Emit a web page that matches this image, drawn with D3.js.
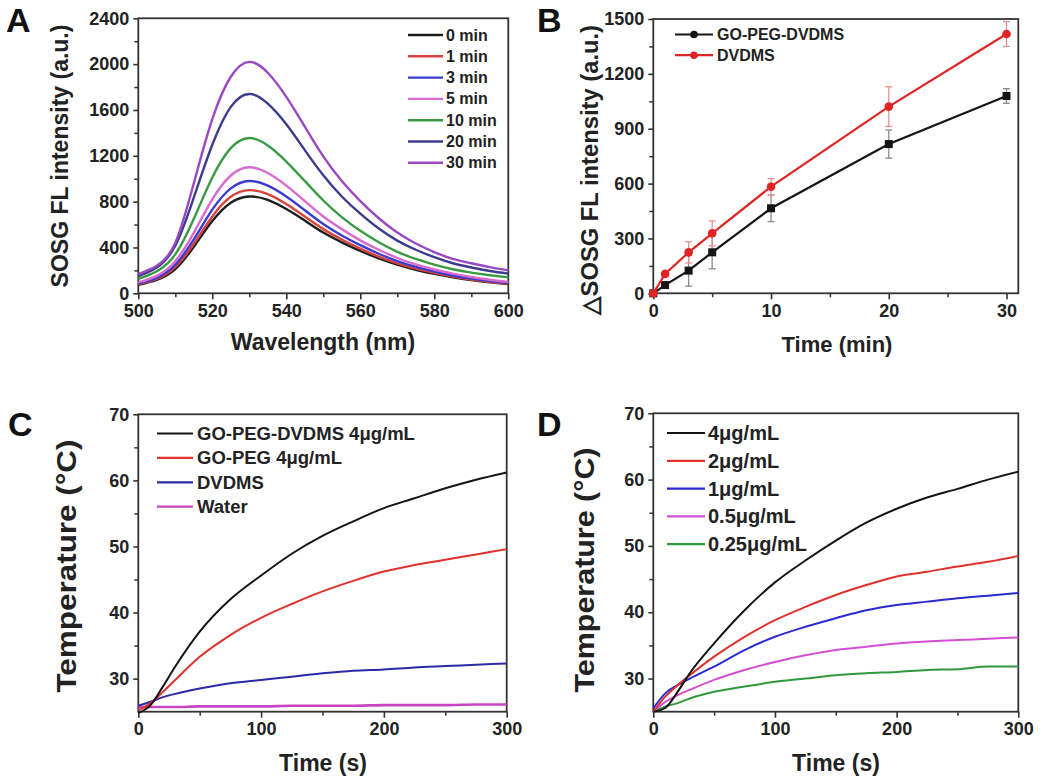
<!DOCTYPE html>
<html><head><meta charset="utf-8">
<script src="https://cdn.jsdelivr.net/npm/d3@7"></script>
<style>
html,body{margin:0;padding:0;background:#fff;}
svg{display:block;font-family:"Liberation Sans",Arial,sans-serif;font-weight:bold;}
svg text{font-weight:bold;}
</style></head>
<body><svg id="c" width="1050" height="782"></svg>
<script>
// ---------- Panel A data ----------
const wavelengths = [500,505,510,515,520,525,530,535,540,545,550,555,560,565,570,575,580,585,590,595,600];
const aLabels = ["0 min","1 min","3 min","5 min","10 min","20 min","30 min"];
const a0  = [75,118,212,406,630,790,845,815,735,635,530,445,370,305,250,205,170,140,115,95,80];
const a1  = [78,125,230,432,671,842,900,865,780,670,560,470,390,320,262,215,178,146,120,99,84];
const a3  = [85,135,250,470,730,916,980,940,845,725,605,505,420,345,280,230,190,155,128,106,92];
const a5  = [95,152,280,528,820,1028,1100,1050,940,805,670,560,462,380,308,252,208,172,142,118,100];
const a10 = [125,192,340,650,1010,1267,1355,1290,1150,980,810,665,545,445,362,300,250,210,180,158,140];
const a20 = [150,225,415,835,1296,1627,1740,1655,1475,1250,1030,845,695,565,460,380,315,262,225,195,172];
const a30 = [168,240,440,960,1520,1890,2020,1925,1715,1455,1195,980,805,655,530,435,360,300,262,228,200];
const aTicksY = [0,400,800,1200,1600,2000,2400];
const aTicksX = [500,520,540,560,580,600];

// ---------- Panel B data ----------
const bTime = [0,1,3,5,10,20,30];
const bLabels = ["GO-PEG-DVDMS","DVDMS"];
const bGoPeg = [0,45,124,224,465,816,1079];
const bGoPegErr = [0,15,85,90,73,77,40];
const bDvdms = [0,106,224,328,583,1021,1418];
const bDvdmsErr = [0,15,58,68,44,108,68];
const bTicksY = [0,300,600,900,1200,1500];
const bTicksX = [0,10,20,30];

// ---------- Panel C / D data ----------
const tTime = [0,10,20,30,50,75,100,125,150,175,200,225,250,275,300];
const cLabels = ["GO-PEG-DVDMS 4\u03bcg/mL","GO-PEG 4\u03bcg/mL","DVDMS","Water"];
const cGoPegDvdms = [24.8,26.0,28.8,31.8,37.1,42.0,45.6,48.9,51.6,53.8,55.8,57.3,58.8,60.1,61.2];
const cGoPeg      = [25.2,26.3,28.0,29.8,33.3,36.6,39.2,41.3,43.2,44.8,46.2,47.2,48.0,48.8,49.6];
const cDvdms      = [25.9,26.5,27.2,27.7,28.5,29.3,29.8,30.3,30.8,31.2,31.4,31.7,31.9,32.1,32.3];
const cWater      = [25.7,25.7,25.7,25.7,25.8,25.8,25.8,25.9,25.9,25.9,26.0,26.0,26.0,26.1,26.1];
const dLabels = ["4\u03bcg/mL","2\u03bcg/mL","1\u03bcg/mL","0.5\u03bcg/mL","0.25\u03bcg/mL"];
const d4   = [25.0,25.6,28.0,30.8,35.3,40.3,44.5,47.8,50.8,53.5,55.6,57.3,58.6,60.0,61.2];
const d2   = [25.0,27.3,29.0,30.5,33.3,36.3,38.8,40.8,42.6,44.1,45.4,46.1,46.9,47.6,48.5];
const d1   = [25.5,27.8,29.0,30.0,31.8,34.3,36.3,37.8,39.1,40.3,41.1,41.6,42.1,42.5,42.9];
const d05  = [25.0,26.5,27.5,28.3,29.8,31.3,32.5,33.5,34.3,34.8,35.3,35.6,35.8,36.0,36.2];
const d025 = [25.0,25.8,26.3,27.0,28.0,28.8,29.5,30.0,30.5,30.8,31.0,31.3,31.4,31.8,31.8];
const tTicksY = [30,40,50,60,70];
const tTicksX = [0,100,200,300];

const svg = d3.select("#c");
svg.append("rect").attr("width",1050).attr("height",782).attr("fill","#fff");
const AX = "#333";
const FONT = "'Liberation Sans',Arial,sans-serif";

function styleTicks(s){
  s.select(".domain").remove();
  s.selectAll("line").attr("stroke",AX).attr("stroke-width",1.6);
  s.selectAll("text").attr("font-size",18).style("font-weight","bold").attr("fill","#222")
   .style("font-family",FONT);
}
function panel(o){
  const x = d3.scaleLinear().domain(o.xd).range([o.x0,o.x1]);
  const y = d3.scaleLinear().domain(o.yd).range([o.y1,o.y0]);
  const g = svg.append("g");
  const fmt = d3.format("d");
  g.append("g").attr("transform",`translate(0,${o.y1})`)
    .call(d3.axisBottom(x).tickValues(o.xMinor).tickSize(4).tickFormat(""))
    .call(s=>{s.select(".domain").remove(); s.selectAll("line").attr("stroke",AX).attr("stroke-width",1.5);});
  g.append("g").attr("transform",`translate(${o.x0},0)`)
    .call(d3.axisLeft(y).tickValues(o.yMinor).tickSize(4).tickFormat(""))
    .call(s=>{s.select(".domain").remove(); s.selectAll("line").attr("stroke",AX).attr("stroke-width",1.5);});
  g.append("g").attr("transform",`translate(0,${o.y1})`)
    .call(d3.axisBottom(x).tickValues(o.xt).tickFormat(fmt).tickSize(6).tickSizeOuter(0).tickPadding(5))
    .call(styleTicks);
  g.append("g").attr("transform",`translate(${o.x0},0)`)
    .call(d3.axisLeft(y).tickValues(o.yt).tickFormat(fmt).tickSize(5).tickSizeOuter(0).tickPadding(4))
    .call(styleTicks);
  g.append("rect").attr("x",o.x0).attr("y",o.y0).attr("width",o.x1-o.x0).attr("height",o.y1-o.y0)
    .attr("fill","none").attr("stroke",AX).attr("stroke-width",1.8);
  return {x,y,g};
}

function ylabel(txt,x,y,size,len){
  const t = svg.append("text").attr("transform",`translate(${x},${y}) rotate(-90)`)
    .attr("text-anchor","middle").attr("font-size",size).attr("fill","#222").text(txt);
  if(len) t.attr("textLength",len).attr("lengthAdjust","spacingAndGlyphs");
}
function xlabel(txt,x,y,size,len){
  const t = svg.append("text").attr("x",x).attr("y",y).attr("text-anchor","middle")
    .attr("font-size",size).attr("fill","#222").text(txt);
  if(len) t.attr("textLength",len).attr("lengthAdjust","spacingAndGlyphs");
}
function letter(txt,x,y){
  svg.append("text").attr("x",x).attr("y",y).attr("font-size",34).attr("fill","#111").text(txt);
}

// ---------- Panel A ----------
{
  const p = panel({x0:138.3,x1:508.3,y0:18.3,y1:293.3,xd:[500,600],yd:[0,2400],
    xt:aTicksX,yt:aTicksY,xMinor:[510,530,550,570,590],yMinor:[200,600,1000,1400,1800,2200]});
  const series = [a0,a1,a3,a5,a10,a20,a30];
  const cols = ["#1e1e1e","#d8443c","#3b3bcf","#d86ad0","#3a9a44","#3c3c8c","#9b48c4"];
  const line = d3.line().x((d,i)=>p.x(wavelengths[i])).y(d=>p.y(d)).curve(d3.curveNatural);
  series.forEach((s,i)=>{
    svg.append("path").datum(s).attr("d",line).attr("fill","none").attr("stroke",cols[i]).attr("stroke-width",2.4);
  });
  aLabels.forEach((l,i)=>{
    const yy = 35 + i*21.3;
    svg.append("line").attr("x1",408).attr("x2",443).attr("y1",yy).attr("y2",yy).attr("stroke",cols[i]).attr("stroke-width",2.4);
    svg.append("text").attr("x",446).attr("y",yy+5.5).attr("font-size",16).attr("fill","#222").text(l);
  });
  ylabel("SOSG FL intensity (a.u.)",68,156,23);
  xlabel("Wavelength (nm)",323,350,23);
  letter("A",6,32);
}

// ---------- Panel B ----------
{
  const p = panel({x0:653.3,x1:1018.3,y0:19,y1:293.3,xd:[0,31],yd:[0,1500],
    xt:bTicksX,yt:bTicksY,xMinor:[5,15,25],yMinor:[150,450,750,1050,1350]});
  const sets = [
    {v:bGoPeg,e:bGoPegErr,c:"#151515",ec:"#8a8a8a",shape:"sq"},
    {v:bDvdms,e:bDvdmsErr,c:"#e02424",ec:"#eb9090",shape:"ci"}];
  sets.forEach(s=>{
    bTime.forEach((t,i)=>{
      if(!s.e[i]) return;
      const cx=p.x(t), yt=p.y(s.v[i]+s.e[i]), yb=p.y(s.v[i]-s.e[i]);
      svg.append("line").attr("x1",cx).attr("x2",cx).attr("y1",yt).attr("y2",yb).attr("stroke",s.ec).attr("stroke-width",1.3);
      [yt,yb].forEach(yy=>svg.append("line").attr("x1",cx-3.5).attr("x2",cx+3.5).attr("y1",yy).attr("y2",yy).attr("stroke",s.ec).attr("stroke-width",1.3));
    });
  });
  sets.forEach(s=>{
    const line = d3.line().x((d,i)=>p.x(bTime[i])).y(d=>p.y(d));
    svg.append("path").datum(s.v).attr("d",line).attr("fill","none").attr("stroke",s.c).attr("stroke-width",2.2);
    s.v.forEach((v,i)=>{
      if(s.shape==="sq") svg.append("rect").attr("x",p.x(bTime[i])-4).attr("y",p.y(v)-4).attr("width",8).attr("height",8).attr("fill",s.c);
      else svg.append("circle").attr("cx",p.x(bTime[i])).attr("cy",p.y(v)).attr("r",4.3).attr("fill",s.c);
    });
  });
  bLabels.forEach((l,i)=>{
    const yy = 34.5 + i*20.7;
    svg.append("line").attr("x1",675).attr("x2",713).attr("y1",yy).attr("y2",yy).attr("stroke",sets[i].c).attr("stroke-width",2.2);
    svg.append("circle").attr("cx",694).attr("cy",yy).attr("r",3.8).attr("fill",sets[i].c);
    svg.append("text").attr("x",717).attr("y",yy+5.5).attr("font-size",16).attr("fill","#222").text(l);
  });
  ylabel("\u25B3SOSG FL intensity (a.u.)",598,170,23,290);
  xlabel("Time (min)",837,352,22);
  letter("B",537,32);
}

// ---------- Panel C ----------
{
  const p = panel({x0:138.3,x1:506.7,y0:414.3,y1:711.7,xd:[0,300],yd:[25,70],
    xt:tTicksX,yt:tTicksY,xMinor:[50,150,250],yMinor:[35,45,55,65]});
  const series=[cGoPegDvdms,cGoPeg,cDvdms,cWater];
  const cols=["#141414","#e0312c","#2a2aa8","#c844c4"];
  const line = d3.line().x((d,i)=>p.x(tTime[i])).y(d=>p.y(d)).curve(d3.curveMonotoneX);
  [3,2,1,0].forEach(i=>{
    svg.append("path").datum(series[i]).attr("d",line).attr("fill","none").attr("stroke",cols[i]).attr("stroke-width",i===3?2.6:2);
  });
  cLabels.forEach((l,i)=>{
    const yy = 433.5 + i*24.4;
    svg.append("line").attr("x1",157).attr("x2",193).attr("y1",yy).attr("y2",yy).attr("stroke",cols[i]).attr("stroke-width",2.2);
    svg.append("text").attr("x",197).attr("y",yy+6.5).attr("font-size",18.5).attr("fill","#222").text(l);
  });
  ylabel("Temperature (\u00b0C)",76,566,28,253);
  xlabel("Time (s)",323,771,23);
  letter("C",8,436);
}

// ---------- Panel D ----------
{
  const p = panel({x0:653.3,x1:1018.3,y0:413.3,y1:711.7,xd:[0,300],yd:[25,70],
    xt:tTicksX,yt:tTicksY,xMinor:[50,150,250],yMinor:[35,45,55,65]});
  const series=[d4,d2,d1,d05,d025];
  const cols=["#141414","#e0312c","#2a2ad0","#d24ed2","#2e9a3c"];
  const line = d3.line().x((d,i)=>p.x(tTime[i])).y(d=>p.y(d)).curve(d3.curveMonotoneX);
  [4,3,2,1,0].forEach(i=>{
    svg.append("path").datum(series[i]).attr("d",line).attr("fill","none").attr("stroke",cols[i]).attr("stroke-width",2);
  });
  dLabels.forEach((l,i)=>{
    const yy = 433 + i*27.8;
    svg.append("line").attr("x1",667).attr("x2",705).attr("y1",yy).attr("y2",yy).attr("stroke",cols[i]).attr("stroke-width",2.2);
    svg.append("text").attr("x",708).attr("y",yy+7).attr("font-size",20).attr("fill","#222").text(l);
  });
  ylabel("Temperature (\u00b0C)",594,570,28,245);
  xlabel("Time (s)",836,771,23);
  letter("D",537,436);
}
</script></body></html>
